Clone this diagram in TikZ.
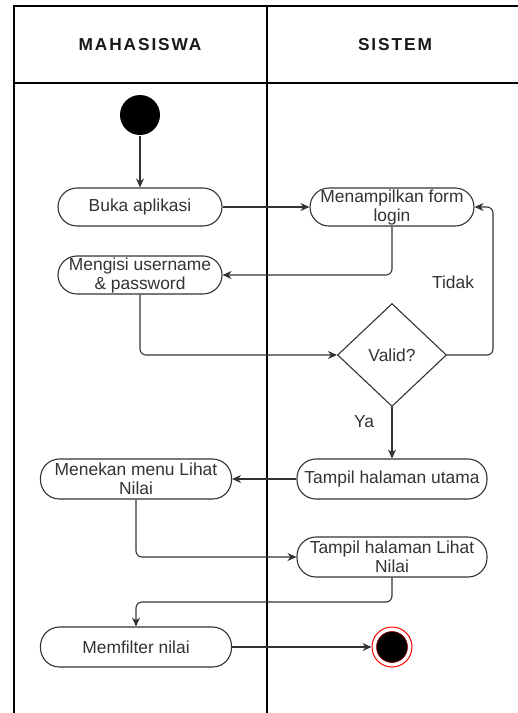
\documentclass[tikz,border=0pt]{standalone}
\usepackage{fontspec}
\setmainfont{Liberation Sans}
\usepackage{tikz}
\usetikzlibrary{shapes.geometric,arrows.meta}

\begin{document}
\begin{tikzpicture}[x=1pt,y=-1pt,->,>={Stealth[length=9pt,width=8pt]},line width=1.1pt,draw=black!80,
	lane/.style={-,draw=black,line width=1.3pt},
	header/.style={font=\fontsize{17.3}{20}\selectfont\bfseries\addfontfeature{LetterSpace=11},text=black!90},
	activity/.style={rectangle,rounded corners=19pt,draw=black!80,fill=white,line width=1.1pt,minimum width=164pt,minimum height=38pt,inner sep=0pt,align=center,font=\fontsize{17.4}{19}\selectfont,text=black!80},
	decision/.style={diamond,draw=black!80,fill=white,line width=1.1pt,minimum width=109pt,minimum height=103pt,inner sep=0pt,aspect=1.06,font=\fontsize{17.4}{19}\selectfont,text=black!80},
	guard/.style={font=\fontsize{17.4}{19}\selectfont,text=black!80}]
	
	\useasboundingbox (0,0) rectangle (518,713);
	
	% swimlanes
	\draw[lane] (518,6) -- (14,6) -- (14,713);
	\draw[lane] (14,83) -- (518,83);
	\draw[lane] (267,6) -- (267,713);
	\node[header] (mahasiswa) at (140,45) {MAHASISWA};
	\node[header] (sistem) at (395,45) {SISTEM};
	
	\node[circle,fill=black,minimum size=40pt,inner sep=0pt] (start) at (140,115) {};
	\node[activity] (buka) at (140,207) {Buka aplikasi};
	\node[activity] (form) at (392,207) {Menampilkan form\\login};
	\node[activity] (isi) at (140,275) {Mengisi username\\\& password};
	\node[decision] (valid) at (392,355) {Valid?};
	\node[activity,minimum width=190pt,minimum height=40pt] (utama) at (392,479) {Tampil halaman utama};
	\node[activity,minimum width=191pt,minimum height=40pt] (menu) at (136,479) {Menekan menu Lihat\\Nilai};
	\node[activity,minimum width=190pt,minimum height=40pt] (lihat) at (392,557) {Tampil halaman Lihat\\Nilai};
	\node[activity,minimum width=191pt,minimum height=40pt] (filter) at (136,647) {Memfilter nilai};
	\node[circle,draw=red,fill=white,line width=1pt,minimum size=40pt,inner sep=0pt] (end) at (392,647) {};
	\node[circle,draw=red!60!black,fill=black,line width=0.6pt,minimum size=31pt,inner sep=0pt] (endin) at (392,647) {};
	
	\node[guard] (tidak) at (453,282) {Tidak};
	\node[guard] (ya) at (364,422) {Ya};
	
	\coordinate (tidakturn) at (493,355);
	\coordinate (lihatturn) at (392,602);
	
	% flows
	\path[rounded corners=6pt]
	(start) edge (buka)
	(buka) edge (form)
	(form.south) edge[to path={|- (\tikztotarget)}] (isi.east)
	(isi.south) edge[to path={|- (\tikztotarget)}] (valid.west)
	(valid.south) edge (utama.north)
	(utama) edge (menu)
	(menu.south) edge[to path={|- (\tikztotarget)}] (lihat.west)
	(filter) edge (end);
	\draw[rounded corners=6pt] (valid.east) -- (tidakturn) |- (form.east);
	\draw[rounded corners=6pt] (lihat.south) -- (lihatturn) -| (filter.north);
	
\end{tikzpicture}
\end{document}
